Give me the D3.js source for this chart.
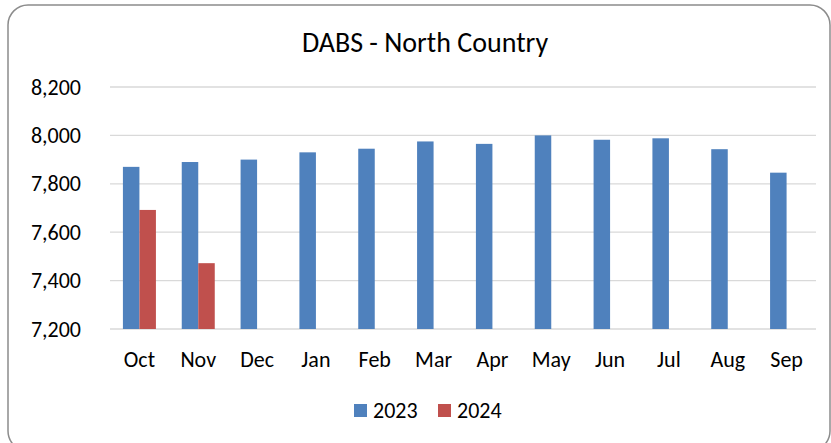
<!DOCTYPE html>
<html>
<head>
<meta charset="utf-8">
<script src="https://cdn.jsdelivr.net/npm/d3@7"></script>
<style>
  html, body { margin: 0; padding: 0; background: #fff; }
  svg { display: block; font-family: Carlito, Lato, "Open Sans", sans-serif; }
</style>
</head>
<body>
<div id="chart"></div>
<script>
const months = ["Oct", "Nov", "Dec", "Jan", "Feb", "Mar", "Apr", "May", "Jun", "Jul", "Aug", "Sep"];
const seriesNames = ["2023", "2024"];
const values2023 = [7870, 7890, 7900, 7930, 7945, 7975, 7965, 8000, 7982, 7988, 7943, 7846];
const values2024 = [7692, 7472, null, null, null, null, null, null, null, null, null, null];
const yTicks = [7200, 7400, 7600, 7800, 8000, 8200];
const colors = ["#4F81BD", "#C0504D"];

const W = 831, H = 443;
const plot = { left: 110, right: 816, top: 87, bottom: 329 };
const fontFam = "Carlito, Lato, 'Open Sans', sans-serif";

const svg = d3.select("#chart").append("svg")
  .attr("width", W)
  .attr("height", H);

// chart frame
svg.append("rect")
  .attr("x", 8).attr("y", 5)
  .attr("width", 822).attr("height", 446)
  .attr("rx", 20).attr("ry", 20)
  .attr("fill", "#fff")
  .attr("stroke", "#8c8c8c")
  .attr("stroke-width", 1.5);

svg.append("text")
  .attr("x", 425).attr("y", 52)
  .attr("text-anchor", "middle")
  .attr("font-size", 28)
  .attr("fill", "#000")
  .text("DABS - North Country");

const y = d3.scaleLinear().domain([7200, 8200]).range([plot.bottom, plot.top]);

const x0 = d3.scaleBand()
  .domain(months)
  .range([plot.left, plot.right])
  .paddingInner(0.439)
  .paddingOuter(0.2195);

const x1 = d3.scaleBand()
  .domain(seriesNames)
  .range([0, x0.bandwidth()]);

// gridlines
svg.append("g")
  .selectAll("line")
  .data(yTicks)
  .join("line")
  .attr("x1", plot.left).attr("x2", plot.right)
  .attr("y1", d => y(d)).attr("y2", d => y(d))
  .attr("stroke", "#d9d9d9")
  .attr("stroke-width", 1.3);

// y axis labels
const yAxis = svg.append("g")
  .attr("transform", `translate(${plot.left},0)`)
  .call(d3.axisLeft(y).tickValues(yTicks).tickFormat(d3.format(",")).tickSize(0).tickPadding(29));
yAxis.select(".domain").remove();
yAxis.selectAll(".tick text")
  .attr("fill", "#000")
  .style("font-size", "22px")
  .style("font-family", fontFam);

// bars
const rows = months.map((m, i) => ({ month: m, vals: [values2023[i], values2024[i]] }));

const groups = svg.append("g")
  .selectAll("g")
  .data(rows)
  .join("g")
  .attr("transform", d => `translate(${x0(d.month)},0)`);

groups.selectAll("rect")
  .data(d => d.vals.map((v, j) => ({ key: seriesNames[j], v, j })).filter(e => e.v != null))
  .join("rect")
  .attr("x", d => x1(d.key))
  .attr("width", x1.bandwidth())
  .attr("y", d => y(d.v))
  .attr("height", d => y(7200) - y(d.v))
  .attr("fill", d => colors[d.j]);

// x axis labels
const xAxis = svg.append("g")
  .attr("transform", `translate(0,${plot.bottom})`)
  .call(d3.axisBottom(x0).tickSize(0).tickPadding(22));
xAxis.select(".domain").remove();
xAxis.selectAll(".tick text")
  .attr("fill", "#000")
  .style("font-size", "22px")
  .style("font-family", fontFam);

// legend
const legendItems = [
  { name: "2023", color: colors[0], x: 354 },
  { name: "2024", color: colors[1], x: 438 }
];
const legend = svg.append("g");
legend.selectAll("rect")
  .data(legendItems)
  .join("rect")
  .attr("x", d => d.x).attr("y", 404)
  .attr("width", 13).attr("height", 13)
  .attr("fill", d => d.color);
legend.selectAll("text")
  .data(legendItems)
  .join("text")
  .attr("x", d => d.x + 19).attr("y", 418)
  .attr("font-size", 22)
  .attr("fill", "#000")
  .text(d => d.name);
</script>
</body>
</html>
